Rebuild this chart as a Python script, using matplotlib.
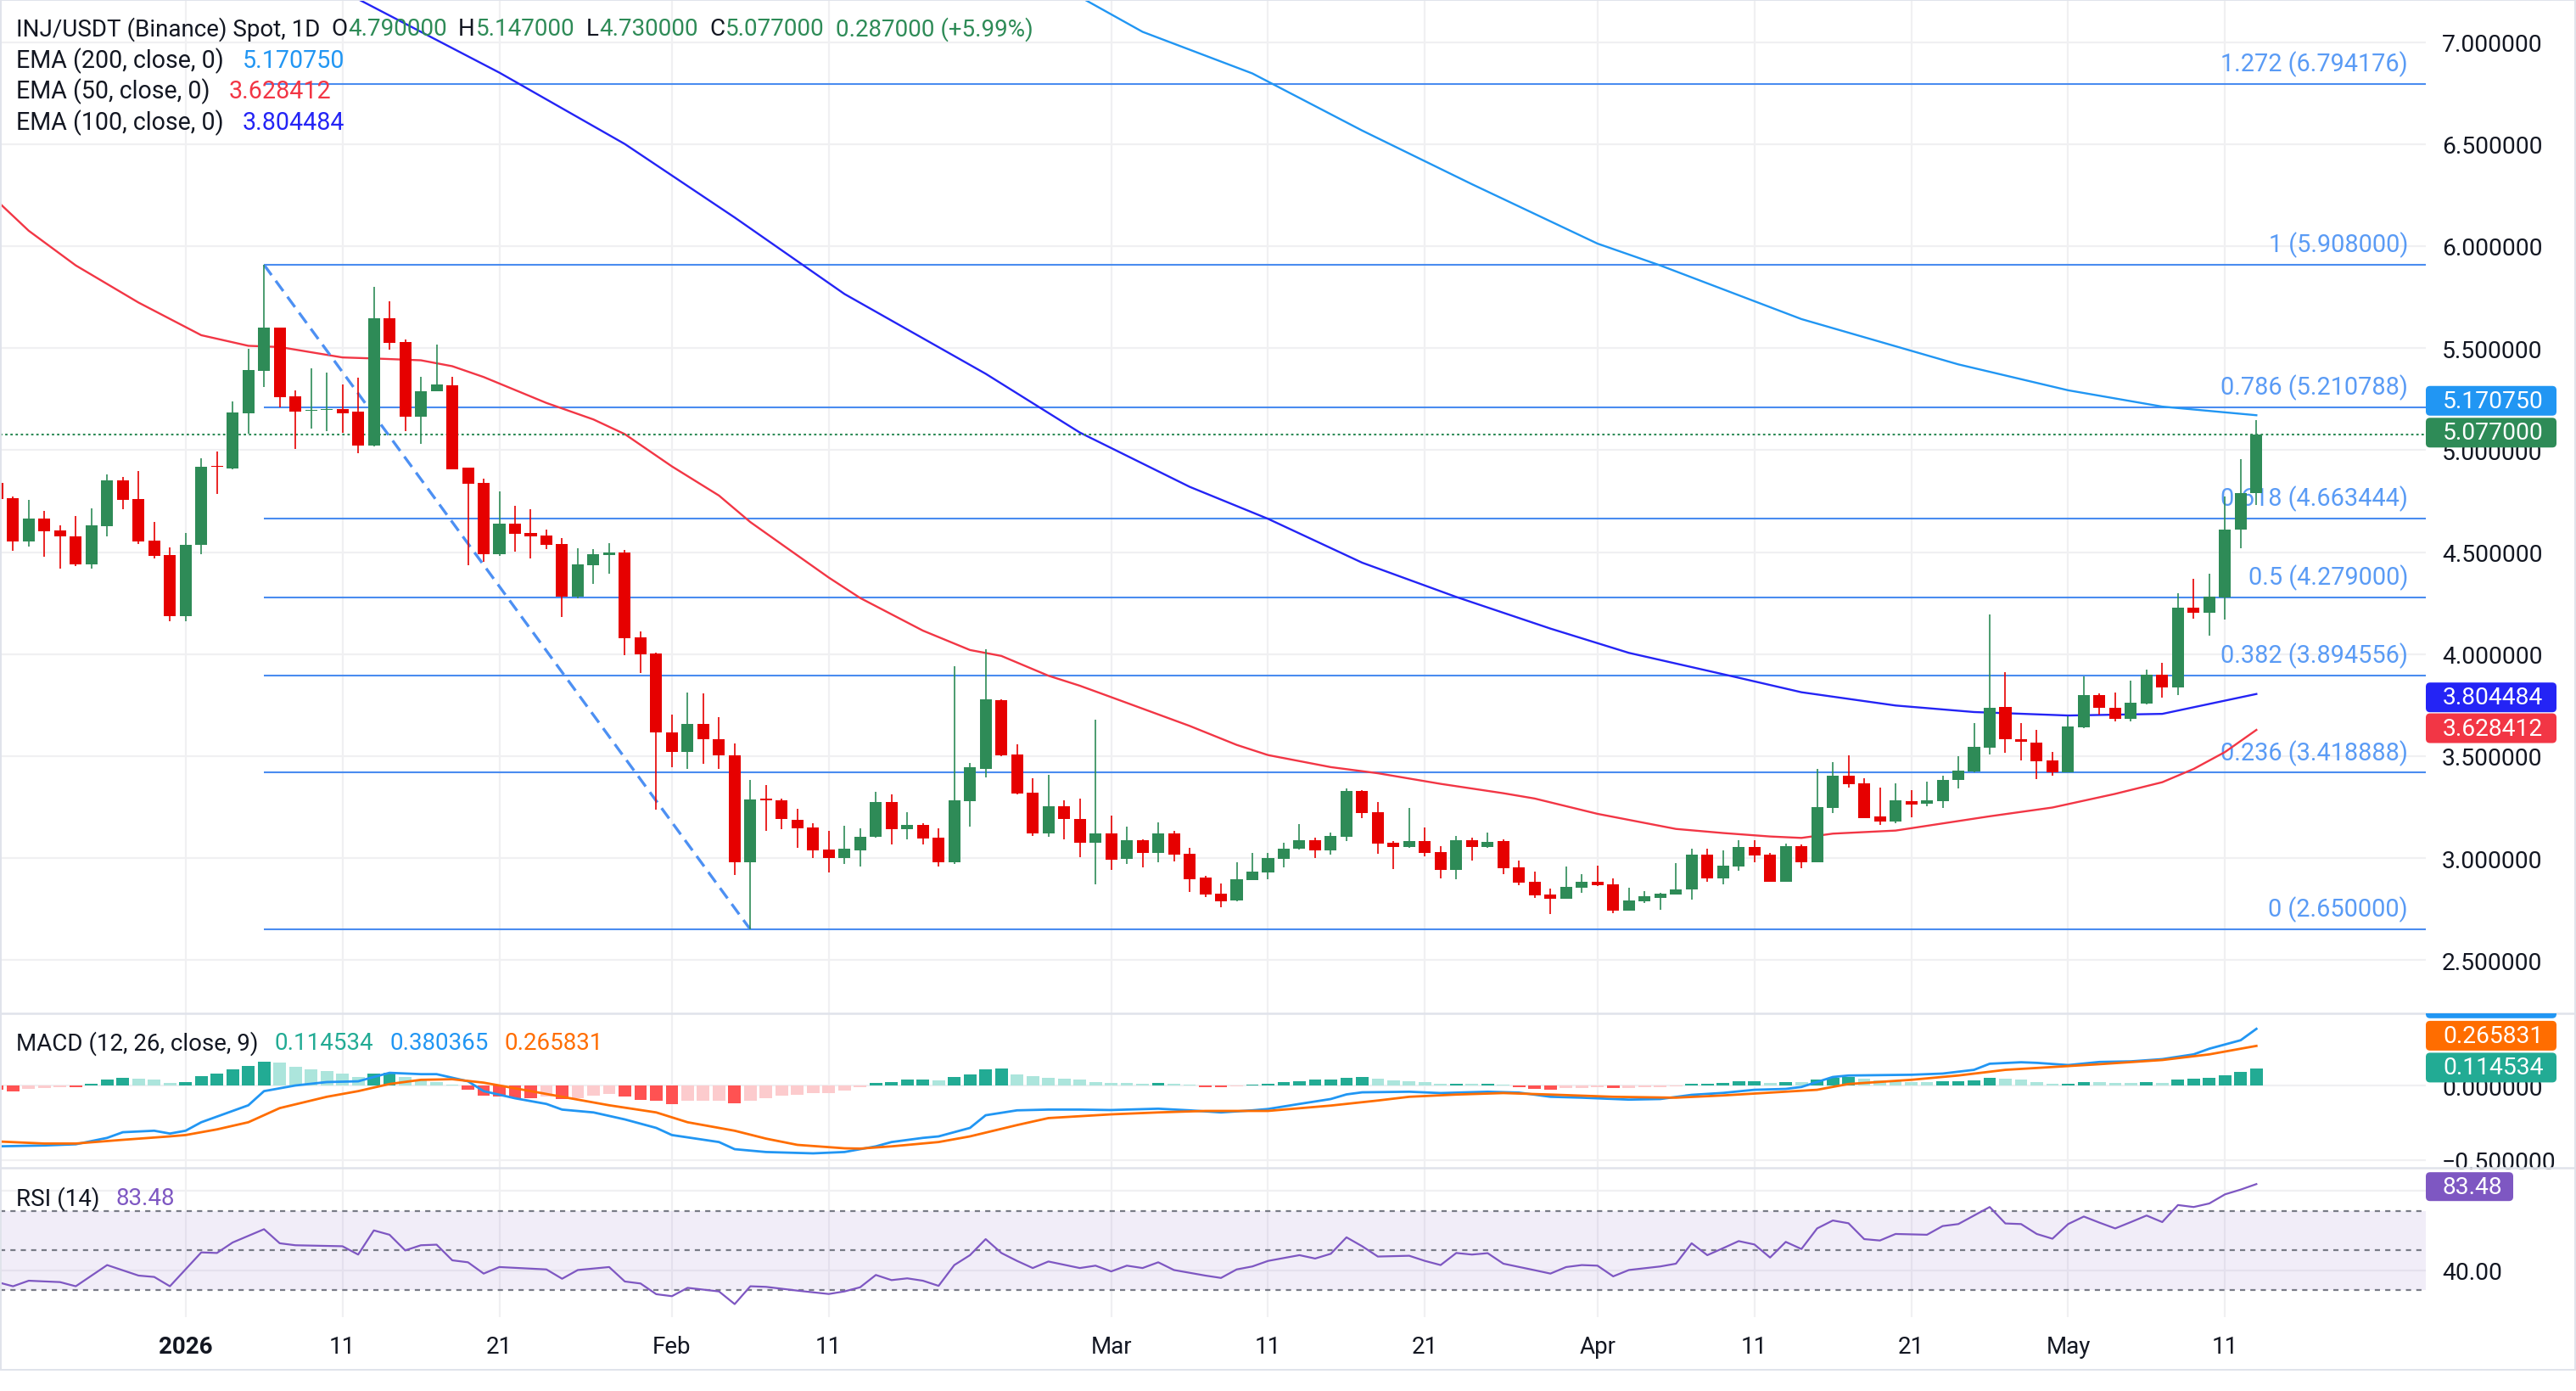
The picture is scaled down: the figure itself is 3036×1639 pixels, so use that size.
import numpy as np
import pandas as pd
import matplotlib
matplotlib.use("Agg")
import matplotlib.pyplot as plt
from matplotlib.patches import FancyBboxPatch, Rectangle
from matplotlib.lines import Line2D
from matplotlib.transforms import IdentityTransform, Bbox

W, H, DPI = 3036, 1640, 200

plt.rcParams['font.family'] = ['Roboto', 'DejaVu Sans']
plt.rcParams['lines.scale_dashes'] = False

# ---------------- data ----------------
first_day = "2025-12-20"
last_day = "2026-05-13"
day0 = pd.Timestamp("2026-01-01")   # knot series below count days from here

opens = [4.84, 4.764, 4.553, 4.664, 4.606, 4.577, 4.440, 4.628, 4.851, 4.760, 4.556, 4.485,
         4.187, 4.537, 4.920, 4.911, 5.182, 5.390, 5.600, 5.263, 5.191, 5.197, 5.202, 5.188, 5.023, 5.645, 5.529, 5.163,
         5.288, 5.317, 4.914, 4.838, 4.489, 4.638, 4.592, 4.580, 4.538, 4.281, 4.435, 4.487, 4.496, 4.081, 4.002,
         3.618, 3.519, 3.659, 3.584, 3.505, 2.978, 3.291, 3.284, 3.187, 3.150, 3.042, 3.002, 3.039, 3.103, 3.275, 3.140,
         3.162, 3.101, 2.981, 3.281, 3.439, 3.774, 3.508, 3.321, 3.123, 3.254, 3.192, 3.077,
         3.120, 2.996, 3.086, 3.025, 3.120, 3.020, 2.903, 2.824, 2.792, 2.894, 2.930, 2.996, 3.046, 3.086, 3.038, 3.104,
         3.327, 3.224, 3.074, 3.054, 3.082, 3.028, 2.942, 3.086, 3.054, 3.082, 2.953, 2.882, 2.820, 2.799, 2.853,
         2.882, 2.870, 2.741, 2.787, 2.807, 2.820, 2.845, 3.015, 2.899, 2.957, 3.053, 3.015, 2.886, 3.057, 2.978, 3.244,
         3.402, 3.365, 3.203, 3.178, 3.281, 3.265, 3.281, 3.382, 3.426, 3.542, 3.741, 3.584, 3.567, 3.477,
         3.419, 3.643, 3.799, 3.737, 3.683, 3.758, 3.899, 3.838, 4.226, 4.202, 4.276, 4.609, 4.790]
highs = [4.87, 4.774, 4.756, 4.702, 4.631, 4.677, 4.714, 4.881, 4.867, 4.897, 4.648, 4.523,
         4.594, 4.960, 4.994, 5.238, 5.496, 5.908, 5.600, 5.292, 5.401, 5.380, 5.323, 5.356, 5.800, 5.729, 5.542, 5.358,
         5.517, 5.358, 4.914, 4.860, 4.797, 4.726, 4.709, 4.609, 4.567, 4.518, 4.513, 4.543, 4.509, 4.113, 4.009,
         3.705, 3.813, 3.809, 3.693, 3.564, 3.385, 3.360, 3.291, 3.242, 3.172, 3.134, 3.159, 3.146, 3.325, 3.312, 3.226,
         3.172, 3.146, 3.939, 3.466, 4.025, 3.778, 3.558, 3.392, 3.407, 3.284, 3.291, 3.678,
         3.207, 3.153, 3.090, 3.174, 3.132, 3.049, 2.914, 2.874, 2.978, 3.024, 3.024, 3.074, 3.165, 3.099, 3.124, 3.340,
         3.332, 3.273, 3.082, 3.244, 3.149, 3.057, 3.107, 3.099, 3.124, 3.090, 2.990, 2.932, 2.849, 2.957, 2.920,
         2.965, 2.899, 2.853, 2.837, 2.828, 2.974, 3.045, 3.045, 3.036, 3.086, 3.086, 3.024, 3.070, 3.065, 3.436, 3.469,
         3.502, 3.390, 3.344, 3.365, 3.335, 3.376, 3.405, 3.501, 3.662, 4.193, 3.913, 3.662, 3.629, 3.519,
         3.697, 3.892, 3.807, 3.812, 3.870, 3.924, 3.957, 4.297, 4.367, 4.396, 4.774, 4.956, 5.147]
lows = [4.70, 4.506, 4.528, 4.479, 4.420, 4.433, 4.420, 4.578, 4.711, 4.541, 4.470, 4.162,
        4.162, 4.490, 4.786, 4.905, 5.082, 5.310, 5.211, 5.007, 5.107, 5.093, 5.086, 4.985, 5.019, 5.491, 5.091, 5.029,
        5.288, 4.904, 4.435, 4.452, 4.481, 4.501, 4.467, 4.513, 4.182, 4.273, 4.343, 4.396, 3.995, 3.909, 3.239,
        3.447, 3.436, 3.464, 3.436, 2.916, 2.650, 3.132, 3.140, 3.052, 2.999, 2.928, 2.972, 2.960, 3.100, 3.066, 3.094,
        3.068, 2.957, 2.971, 3.156, 3.395, 3.499, 3.313, 3.110, 3.106, 3.094, 3.006, 2.871,
        2.942, 2.971, 2.954, 2.979, 2.984, 2.834, 2.809, 2.759, 2.790, 2.893, 2.896, 2.954, 3.042, 3.000, 3.017, 3.083,
        3.196, 3.021, 2.946, 3.050, 3.009, 2.900, 2.896, 2.988, 3.050, 2.920, 2.866, 2.803, 2.724, 2.799, 2.828,
        2.862, 2.728, 2.741, 2.778, 2.745, 2.820, 2.795, 2.886, 2.870, 2.936, 2.978, 2.882, 2.886, 2.949, 2.978, 3.219,
        3.344, 3.198, 3.161, 3.170, 3.202, 3.254, 3.246, 3.340, 3.419, 3.509, 3.517, 3.477, 3.386, 3.406,
        3.419, 3.635, 3.704, 3.671, 3.671, 3.753, 3.787, 3.801, 4.175, 4.091, 4.170, 4.518, 4.730]
closes = [4.76, 4.553, 4.664, 4.603, 4.576, 4.440, 4.631, 4.851, 4.757, 4.553, 4.483, 4.187,
          4.537, 4.918, 4.916, 5.184, 5.394, 5.600, 5.261, 5.190, 5.197, 5.202, 5.182, 5.023, 5.645, 5.525, 5.163, 5.288,
          5.322, 4.904, 4.834, 4.489, 4.638, 4.590, 4.578, 4.535, 4.281, 4.438, 4.489, 4.496, 4.078, 3.998, 3.615,
          3.519, 3.659, 3.582, 3.503, 2.978, 3.289, 3.285, 3.190, 3.147, 3.039, 3.002, 3.045, 3.104, 3.275, 3.140, 3.162,
          3.098, 2.978, 3.284, 3.445, 3.778, 3.503, 3.318, 3.123, 3.254, 3.190, 3.077, 3.122,
          2.992, 3.086, 3.025, 3.120, 3.017, 2.896, 2.821, 2.788, 2.895, 2.932, 2.999, 3.045, 3.086, 3.038, 3.107, 3.327,
          3.221, 3.071, 3.054, 3.082, 3.025, 2.942, 3.086, 3.054, 3.078, 2.949, 2.878, 2.816, 2.799, 2.857, 2.882,
          2.866, 2.741, 2.791, 2.812, 2.824, 2.845, 3.015, 2.899, 2.961, 3.053, 3.011, 2.886, 3.057, 2.978, 3.248, 3.402,
          3.361, 3.198, 3.178, 3.282, 3.263, 3.285, 3.384, 3.430, 3.546, 3.737, 3.581, 3.571, 3.473, 3.419,
          3.647, 3.799, 3.737, 3.683, 3.762, 3.899, 3.838, 4.226, 4.204, 4.280, 4.612, 4.790, 5.077]

macd_hist = [-0.030, -0.038, -0.025, -0.015, -0.010, -0.012, 0.010, 0.038, 0.051, 0.044, 0.038, 0.019,
             0.023, 0.061, 0.080, 0.110, 0.133, 0.162, 0.152, 0.127, 0.110, 0.099, 0.080, 0.057, 0.080, 0.086, 0.057,
             0.042, 0.023, 0.004, -0.029, -0.067, -0.076, -0.086, -0.086, -0.076, -0.091, -0.086, -0.070, -0.057,
             -0.076, -0.095, -0.105,
             -0.124, -0.105, -0.104, -0.101, -0.118, -0.105, -0.086, -0.070, -0.061, -0.053, -0.051, -0.034, -0.013,
             0.019, 0.023, 0.038, 0.042, 0.034, 0.057, 0.076, 0.110, 0.114, 0.076, 0.061, 0.051, 0.048, 0.042, 0.023,
             0.019, 0.015, 0.010, 0.019, 0.013, 0.004, -0.010, -0.013, -0.006, 0.006, 0.010, 0.023, 0.029, 0.038,
             0.042, 0.051, 0.057, 0.048, 0.032, 0.029, 0.023, 0.012, 0.014, 0.012, 0.013, 0.006, -0.010, -0.023,
             -0.029, -0.019, -0.015,
             -0.014, -0.019, -0.015, -0.013, -0.011, -0.008, 0.013, 0.013, 0.019, 0.029, 0.029, 0.015, 0.023, 0.021,
             0.038, 0.053, 0.057, 0.048, 0.032, 0.029, 0.023, 0.022, 0.029, 0.029, 0.032, 0.051, 0.048, 0.038, 0.023,
             0.010,
             0.013, 0.023, 0.020, 0.019, 0.018, 0.023, 0.019, 0.042, 0.048, 0.053, 0.070, 0.091, 0.114534]

ema50_day = [-12, -10, -7, -3, 1, 4, 6, 10, 12, 15, 17, 19, 23, 26, 28, 31, 34, 36, 38, 41, 43, 47, 50, 52,
             55, 57, 59, 64, 67, 69, 73, 76, 80, 84, 86, 90, 95, 98, 101, 103, 105, 109, 115, 119, 123, 126,
             128, 130, 132]
ema50_val = [6.22, 6.075, 5.905, 5.723, 5.563, 5.511, 5.505, 5.454, 5.449, 5.44, 5.411, 5.358, 5.231, 5.15,
             5.078, 4.92, 4.777, 4.647, 4.538, 4.375, 4.275, 4.115, 4.02, 3.991, 3.894, 3.845, 3.789, 3.648,
             3.555, 3.505, 3.446, 3.416, 3.364, 3.318, 3.292, 3.217, 3.143, 3.123, 3.106, 3.099, 3.12, 3.135,
             3.205, 3.248, 3.315, 3.372, 3.437, 3.52, 3.628412]
ema100_day = [8, 11, 20, 28, 35, 42, 51, 57, 64, 69, 75, 81, 87, 92, 99, 103, 109, 114, 120, 126, 132]
ema100_val = [7.355, 7.21, 6.85, 6.50, 6.14, 5.765, 5.374, 5.086, 4.82, 4.663, 4.448, 4.28, 4.125, 4.006,
              3.884, 3.813, 3.748, 3.716, 3.699, 3.707, 3.804484]
ema200_day = [55, 61, 68, 75, 82, 90, 94, 103, 113, 120, 126, 132]
ema200_val = [7.307, 7.05, 6.846, 6.566, 6.303, 6.012, 5.905, 5.642, 5.42, 5.293, 5.213, 5.17075]

macd_day = [-12, -9, -7, -5, -4, -2, -1, 0, 1, 2, 4, 5, 7, 9, 11, 12, 13, 15, 16, 18, 19, 21, 23, 24, 26, 28,
            30, 31, 34, 35, 37, 40, 42, 44, 45, 47, 48, 50, 51, 53, 55, 57, 59, 62, 64, 66, 68, 69, 71, 73, 74,
            75, 78, 80, 83, 85, 87, 89, 92, 94, 96, 98, 100, 102, 103, 105, 106, 110, 112, 114, 115, 117, 118,
            120, 122, 124, 126, 128, 129, 131, 132]
macd_val = [-0.409, -0.403, -0.395, -0.352, -0.314, -0.304, -0.323, -0.304, -0.247, -0.209, -0.133, -0.038,
            0.000, 0.023, 0.028, 0.057, 0.085, 0.076, 0.076, 0.028, -0.038, -0.086, -0.124, -0.162, -0.181,
            -0.228, -0.285, -0.333, -0.380, -0.428, -0.447, -0.456, -0.447, -0.409, -0.380, -0.352, -0.342,
            -0.285, -0.200, -0.167, -0.162, -0.162, -0.165, -0.156, -0.167, -0.181, -0.167, -0.158, -0.124,
            -0.091, -0.060, -0.046, -0.042, -0.051, -0.042, -0.048, -0.076, -0.082, -0.095, -0.091, -0.063,
            -0.050, -0.029, -0.023, -0.010, 0.057, 0.067, 0.072, 0.080, 0.105, 0.146, 0.156, 0.152, 0.137,
            0.158, 0.162, 0.177, 0.209, 0.247, 0.304, 0.380365]
signal_day = [-12, -9, -7, -4, -1, 0, 2, 4, 6, 9, 11, 13, 15, 17, 19, 21, 23, 25, 27, 30, 32, 35, 37, 39, 42,
              43, 45, 48, 50, 53, 55, 59, 62, 65, 69, 73, 76, 78, 81, 84, 87, 91, 95, 98, 101, 104, 106, 110,
              113, 116, 119, 122, 126, 129, 131, 132]
signal_val = [-0.376, -0.390, -0.390, -0.365, -0.342, -0.333, -0.295, -0.247, -0.152, -0.076, -0.038, 0.010,
              0.038, 0.042, 0.019, -0.019, -0.057, -0.095, -0.133, -0.181, -0.247, -0.304, -0.357, -0.399,
              -0.422, -0.424, -0.409, -0.380, -0.342, -0.266, -0.219, -0.194, -0.181, -0.171, -0.171, -0.135,
              -0.101, -0.076, -0.061, -0.051, -0.061, -0.076, -0.082, -0.067, -0.048, -0.029, 0.010, 0.038,
              0.067, 0.105, 0.124, 0.143, 0.171, 0.209, 0.247, 0.265831]

rsi_day = [-12, -11, -10, -8, -7, -5, -3, -2, -1, 1, 2, 3, 5, 6, 7, 10, 11, 12, 13, 14, 15, 16, 17, 18, 19,
           20, 23, 24, 25, 27, 28, 29, 30, 31, 32, 34, 35, 36, 37, 39, 41, 42, 43, 44, 45, 46, 47, 48, 49, 50,
           51, 52, 53, 54, 55, 57, 58, 59, 60, 61, 62, 63, 65, 66, 67, 68, 69, 71, 72, 73, 74, 75, 76, 78, 79,
           80, 81, 82, 83, 84, 86, 87, 88, 89, 90, 91, 92, 94, 95, 96, 97, 98, 99, 100, 101, 102, 103, 104,
           105, 106, 107, 108, 109, 111, 112, 113, 114, 115, 116, 117, 118, 119, 120, 121, 122, 123, 124, 125,
           126, 127, 128, 129, 130, 131, 132]
rsi_val = [34.0, 31.9, 34.7, 34.0, 31.9, 42.6, 37.3, 36.6, 31.9, 49.0, 48.7, 54.0, 60.7, 53.6, 52.6, 52.1,
           47.9, 60.1, 57.9, 50.0, 52.6, 52.9, 45.0, 44.0, 38.3, 41.6, 40.4, 35.7, 40.1, 41.6, 34.3, 33.3, 27.9,
           26.9, 31.1, 29.3, 22.9, 31.9, 31.6, 29.7, 28.0, 29.3, 31.4, 37.6, 35.0, 35.9, 34.7, 32.1, 42.6, 47.6,
           55.7, 48.7, 44.7, 41.1, 44.4, 41.1, 42.3, 39.4, 42.3, 41.1, 44.0, 40.1, 37.3, 36.1, 40.4, 41.9, 44.7,
           47.6, 45.9, 48.3, 56.6, 52.1, 46.9, 47.3, 44.7, 42.6, 48.7, 47.9, 48.6, 43.3, 40.0, 38.3, 41.6, 42.6,
           42.3, 36.9, 40.1, 41.9, 43.3, 53.6, 47.6, 51.1, 54.7, 53.0, 46.4, 54.3, 50.7, 61.1, 65.1, 63.7, 55.7,
           55.0, 58.3, 57.9, 62.3, 63.3, 67.6, 71.9, 63.6, 63.3, 58.3, 55.9, 63.3, 67.1, 64.0, 61.1, 64.3, 67.6,
           64.3, 72.9, 71.9, 73.7, 78.3, 80.7, 83.48]

# fib retracement drawn between the January high and the February low
fib_from, fib_to = "2026-01-06", "2026-02-06"
fib_high, fib_low = 5.908, 2.65
fib_ratios = [1.272, 1, 0.786, 0.618, 0.5, 0.382, 0.236, 0]

tick_dates = ["2026-01-01", "2026-01-11", "2026-01-21", "2026-02-01", "2026-02-11", "2026-03-01",
              "2026-03-11", "2026-03-21", "2026-04-01", "2026-04-11", "2026-04-21", "2026-05-01", "2026-05-11"]
tick_labels = ["2026", "11", "21", "Feb", "11", "Mar", "11", "21", "Apr", "11", "21", "May", "11"]

# ---------------- style ----------------
TXT = '#131722'
GRID = '#f0f0f2'
UP, DN = '#2e8b57', '#e60000'
C200, C50, C100 = '#2196f3', '#f23645', '#2424f5'
FIB, FIBTXT = '#4a8cf0', '#5a9bf5'
BLUE, ORANGE, TEAL, PURPLE = '#2196f3', '#ff6d00', '#22ab94', '#7e57c2'
SEP = '#e0e3eb'

dates = pd.date_range(first_day, last_day, freq="D")
days = np.array((dates - day0).days, dtype=float)
o, h, l, c = (np.array(v) for v in (opens, highs, lows, closes))
hist = np.array(macd_hist)
assert len(o) == len(h) == len(l) == len(c) == len(hist) == len(days)

fig = plt.figure(figsize=(W / DPI, H / DPI), dpi=DPI)
fig.patch.set_facecolor('white')


def px_rect(x0, y0, x1, y1):
    return [x0 / W, 1 - y1 / H, (x1 - x0) / W, (y1 - y0) / H]


PLOT_R = 2859
ax_p = fig.add_axes(px_rect(0, 0, PLOT_R, 1195))
ax_m = fig.add_axes(px_rect(0, 1195, PLOT_R, 1377))
ax_r = fig.add_axes(px_rect(0, 1377, PLOT_R, 1553))

x_left, x_right = -11.83, 142.8
tick_days = [(pd.Timestamp(t) - day0).days for t in tick_dates]
for ax in (ax_p, ax_m, ax_r):
    ax.set_xlim(x_left, x_right)
    for s in ax.spines.values():
        s.set_visible(False)
    ax.yaxis.tick_right()
    ax.tick_params(axis='x', length=0, labelbottom=False)
    ax.tick_params(axis='y', length=0, pad=6.8, labelsize=10.2, labelcolor=TXT)
    for td in tick_days:
        ax.axvline(td, color=GRID, lw=0.8, zorder=0)

# ---- price pane ----
ax_p.set_ylim(2.2392, 7.2101)
price_ticks = np.arange(2.5, 7.01, 0.5)
ax_p.set_yticks(price_ticks)
ax_p.set_yticklabels([f"{v:.6f}" for v in price_ticks])
for v in price_ticks:
    ax_p.axhline(v, color=GRID, lw=0.8, zorder=0)

x_from = (pd.Timestamp(fib_from) - day0).days
x_to = (pd.Timestamp(fib_to) - day0).days
for r in fib_ratios:
    lvl = fib_low + (fib_high - fib_low) * r
    ax_p.hlines(lvl, x_from, x_right, color=FIB, lw=0.75, zorder=1)
    ax_p.annotate(f"{r:g} ({lvl:.6f})", xy=(0.99265, lvl), xycoords=('axes fraction', 'data'),
                  xytext=(0, 3.2), textcoords='offset points', ha='right', va='bottom',
                  color=FIBTXT, fontsize=10.4, zorder=1.5)
ax_p.plot([x_from, x_to], [fib_high, fib_low], color='#4d90f3', lw=1.2, dashes=(5.4, 3.0), zorder=2.5)

ax_p.plot(ema200_day, ema200_val, color=C200, lw=0.85, zorder=2)
ax_p.plot(ema100_day, ema100_val, color=C100, lw=0.85, zorder=2)
ax_p.plot(ema50_day, ema50_val, color=C50, lw=0.85, zorder=2)
ax_p.axhline(c[-1], color=UP, lw=0.75, dashes=(1.0, 1.2), zorder=2)

cols = np.where(c >= o, UP, DN)
ax_p.vlines(days, l, h, colors=cols, lw=0.6, zorder=3)
ax_p.bar(days, np.maximum(np.abs(c - o), 0.006), bottom=np.minimum(o, c), width=0.76,
         color=cols, linewidth=0, zorder=3.5)

# ---- MACD pane ----
ax_m.set_ylim(-0.5530, 0.4846)
ax_m.set_yticks([0, -0.5])
ax_m.set_yticklabels(["0.000000", "\u22120.500000"])
ax_m.axhline(0, color=GRID, lw=0.8, zorder=0)
ax_m.axhline(-0.5, color=GRID, lw=0.8, zorder=0)
hcols = []
for i, v in enumerate(hist):
    prev = hist[i - 1] if i > 0 else v
    if v >= 0:
        hcols.append('#22ab94' if v >= prev else '#ace5dc')
    else:
        hcols.append('#ff5252' if v <= prev else '#fccbcd')
ax_m.bar(days, hist, width=0.8, color=hcols, linewidth=0, zorder=2)
ax_m.plot(macd_day, macd_val, color=BLUE, lw=1.0, zorder=3)
ax_m.plot(signal_day, signal_val, color=ORANGE, lw=1.0, zorder=3)

# ---- RSI pane ----
ax_r.set_ylim(16.3, 91.7)
ax_r.set_yticks([40])
ax_r.set_yticklabels(["40.00"])
ax_r.axhline(40, color=GRID, lw=0.8, zorder=0)
ax_r.axhline(80, color=GRID, lw=0.8, zorder=0)
ax_r.axhspan(30, 70, color=PURPLE, alpha=0.1, lw=0, zorder=0.5)
for lv in (70, 50, 30):
    ax_r.axhline(lv, color='#787b86', lw=0.8, dashes=(2.2, 2.2), zorder=1)
ax_r.plot(rsi_day, rsi_val, color=PURPLE, lw=0.8, zorder=3)

ax_r.set_xticks(tick_days)
ax_r.set_xticklabels(tick_labels)
ax_r.tick_params(axis='x', labelbottom=True, pad=7.5, labelsize=10, labelcolor=TXT)
ax_r.get_xticklabels()[0].set_fontweight('bold')

# ---- separators and frame ----
for yy in (1195, 1377):
    fig.add_artist(Line2D([0, 1], [1 - yy / H] * 2, transform=fig.transFigure, color=SEP, lw=0.9, zorder=5))
fig.add_artist(Rectangle((0.5 / W, 1 - 1615 / H), (W - 1.5) / W, 1614 / H, transform=fig.transFigure,
                         fill=False, ec=SEP, lw=0.7, zorder=5))

# ---- price tags on the right scale ----
def tag(ax, value, fc, dy=0, width=154, clip_top=None, hh=35):
    yc = ax.transData.transform((0, value))[1] - dy
    box = FancyBboxPatch((PLOT_R, yc - hh / 2), width, hh, boxstyle="round,pad=0,rounding_size=5",
                         transform=IdentityTransform(), fc=fc, ec='none', zorder=6)
    fig.add_artist(box)
    t = fig.text((PLOT_R + 20) / W, yc / H, f"{value:.6f}" if width > 120 else f"{value:.2f}",
                 color='white', fontsize=10.2, ha='left', va='center', zorder=7)
    if clip_top is not None:
        cb = Bbox.from_extents(0, 0, W, H - clip_top)
        box.set_clip_box(cb)
        t.set_clip_box(cb)
        t.set_clip_on(True)


tag(ax_p, ema200_val[-1], C200, dy=-17)
tag(ax_p, c[-1], UP, dy=-2)
tag(ax_p, ema100_val[-1], C100, dy=4)
tag(ax_p, ema50_val[-1], C50, dy=-2)
tag(ax_m, macd_val[-1], BLUE, dy=-30, clip_top=1195)
tag(ax_m, signal_val[-1], ORANGE, dy=-12)
tag(ax_m, hist[-1], TEAL, dy=-1)
tag(ax_r, rsi_val[-1], PURPLE, width=103, dy=3, hh=34)

# ---- legends ----
renderer = fig.canvas.get_renderer()


def text_row(y_px, parts, x_px=19, size=10):
    x = x_px
    for s, col, gap in parts:
        t = fig.text(x / W, 1 - y_px / H, s, color=col, fontsize=size, ha='left', va='center', zorder=8)
        x += t.get_window_extent(renderer).width + gap


chg = c[-1] - c[-2]
pct = chg / c[-2] * 100
text_row(35, [("INJ/USDT (Binance) Spot, 1D", TXT, 13),
              ("O", TXT, 1), (f"{o[-1]:.6f}", UP, 13),
              ("H", TXT, 1), (f"{h[-1]:.6f}", UP, 13),
              ("L", TXT, 1), (f"{l[-1]:.6f}", UP, 13),
              ("C", TXT, 1), (f"{c[-1]:.6f}", UP, 13),
              (f"{chg:.6f} ({pct:+.2f}%)", UP, 0)])
text_row(72, [("EMA (200, close, 0)", TXT, 22), (f"{ema200_val[-1]:.6f}", C200, 0)], size=10.3)
text_row(108, [("EMA (50, close, 0)", TXT, 22), (f"{ema50_val[-1]:.6f}", C50, 0)], size=10.3)
text_row(145, [("EMA (100, close, 0)", TXT, 22), (f"{ema100_val[-1]:.6f}", C100, 0)], size=10.3)
text_row(1230, [("MACD (12, 26, close, 9)", TXT, 19), (f"{hist[-1]:.6f}", TEAL, 19),
                (f"{macd_val[-1]:.6f}", BLUE, 19), (f"{signal_val[-1]:.6f}", ORANGE, 0)])
text_row(1413, [("RSI (14)", TXT, 19), (f"{rsi_val[-1]:.2f}", PURPLE, 0)])

fig.savefig("out.png", dpi=DPI, facecolor='white')
